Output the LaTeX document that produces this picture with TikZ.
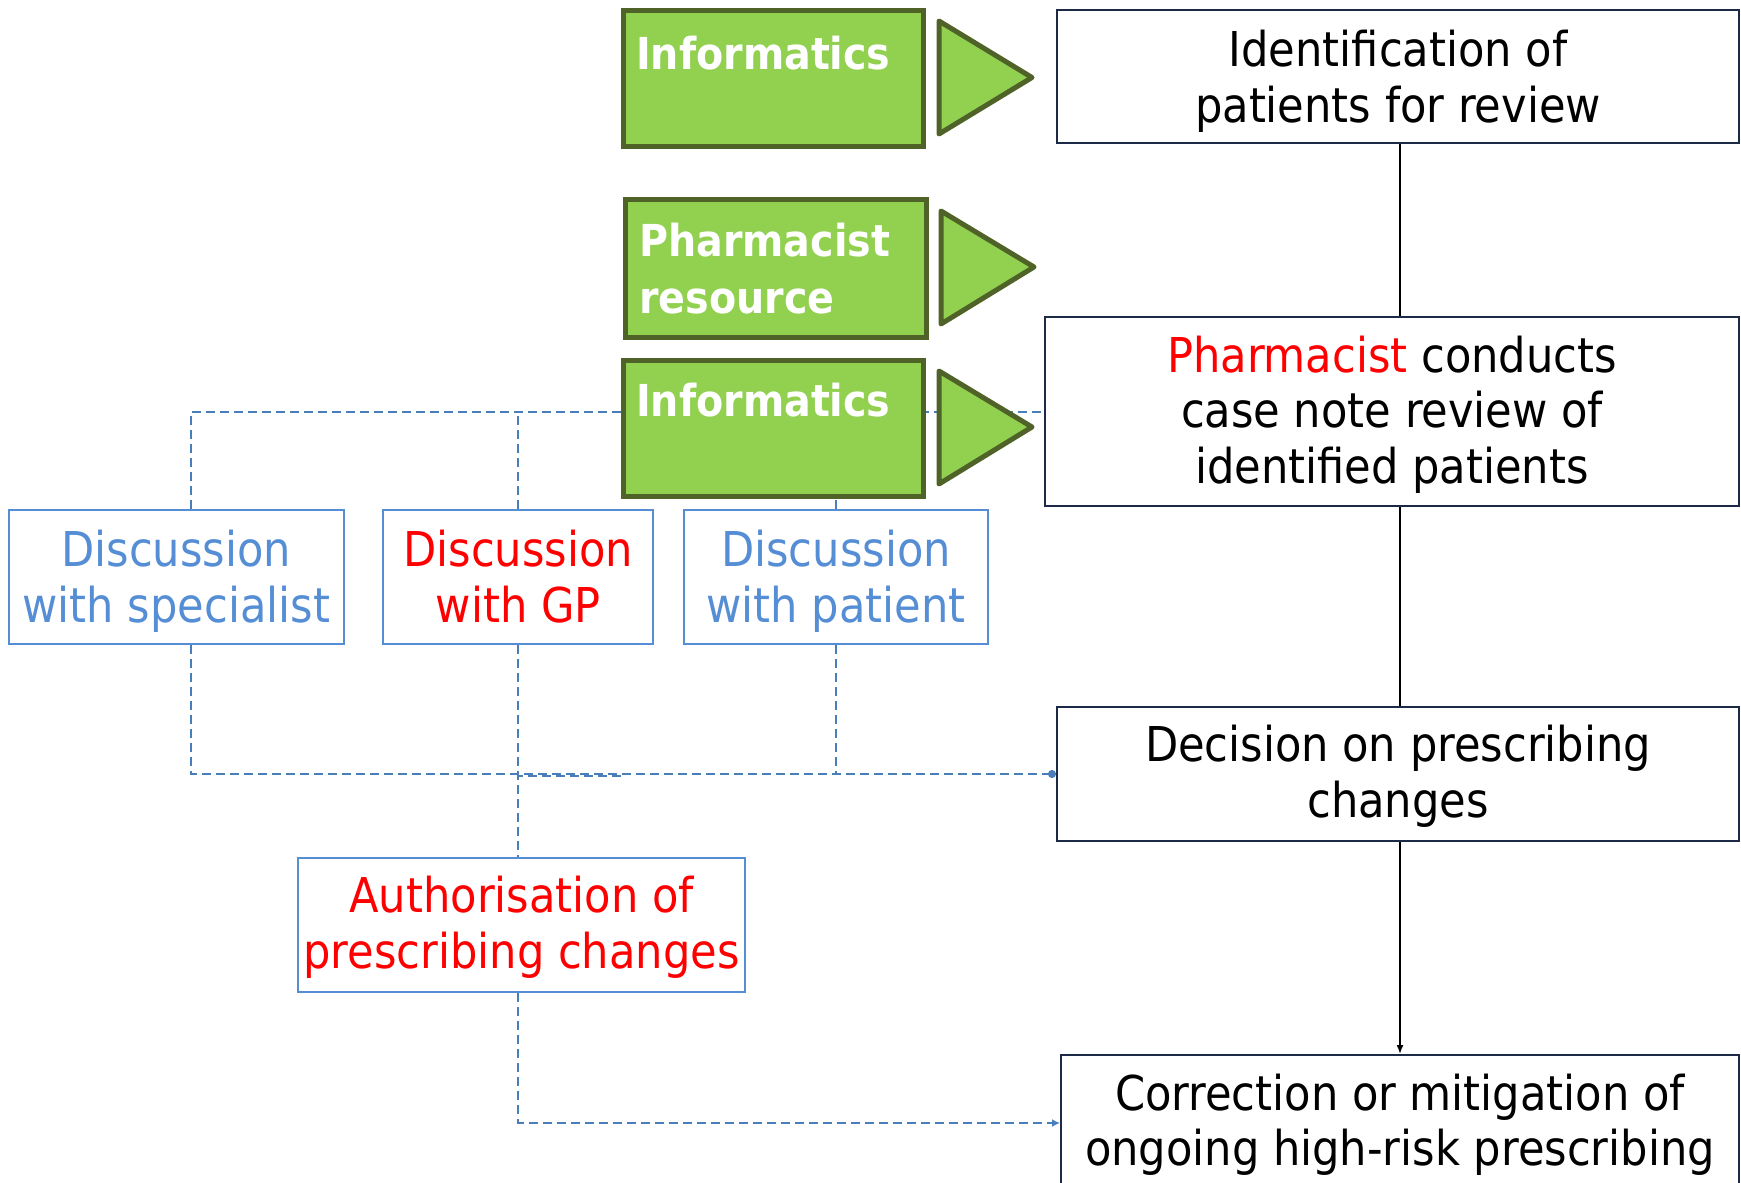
\documentclass[tikz,border=0pt]{standalone}
\usepackage{fontspec}
\setmainfont{DejaVu Sans Condensed}
\usetikzlibrary{arrows.meta}
\definecolor{gfill}{HTML}{92D050}
\definecolor{gborder}{HTML}{4F6228}
\definecolor{btext}{HTML}{558ED5}
\definecolor{dline}{HTML}{4A7EBB}
\definecolor{navy}{HTML}{1C2A48}
\definecolor{myred}{HTML}{FF0000}
\newcommand\tstr[1]{\rule{0pt}{#1pt}}
\newcommand\bstr{\rule[-12pt]{0pt}{0pt}}
\begin{document}
\begin{tikzpicture}[x=1pt,y=-1pt,
  mainbox/.style={draw=navy, line width=2pt, fill=white, align=center, inner sep=0pt,
    font=\fontsize{48}{55.5}\selectfont},
  bluebox/.style={draw=btext, line width=2pt, fill=white, align=center, inner sep=0pt,
    font=\fontsize{48}{56}\selectfont},
  gbox/.style={draw=gborder, fill=gfill, line width=5pt, inner sep=0pt},
  gtri/.style={draw=gborder, fill=gfill, line width=5pt, line join=round},
  gtext/.style={text=white, font=\bfseries\fontsize{44}{51}\selectfont, anchor=base west, inner sep=0pt},
  bluedash/.style={draw=dline, line width=2pt, dash pattern=on 9pt off 5pt},
  flow/.style={draw=black, line width=1.5pt}]
\useasboundingbox (0,0) rectangle (1741,1183);

% main flow boxes
\node[mainbox, minimum width=682pt, minimum height=133pt] (ident) at (1398,76.5)
  {\tstr{47.9}Identification of\\patients for review\bstr};
\node[mainbox, minimum width=694pt, minimum height=189pt] (pharm) at (1392,411.5)
  {\tstr{44}\textcolor{myred}{Pharmacist} conducts\\case note review of\\identified patients\bstr};
\node[mainbox, minimum width=682pt, minimum height=134pt] (dec) at (1398,774)
  {\tstr{42.9}Decision on prescribing\\changes\bstr};
\node[mainbox, minimum width=678pt, minimum height=136pt] (corr) at (1400,1123)
  {\tstr{41.5}Correction or mitigation of\\ongoing high-risk prescribing\bstr};
\coordinate (spine) at (1400,0);

% blue boxes
\node[bluebox, text=btext, minimum width=334.5pt, minimum height=134pt] (spec) at (176.25,577)
  {\tstr{46.9}Discussion\\with specialist\bstr};
\node[bluebox, text=myred, minimum width=269.6pt, minimum height=134pt] (gp) at (518.2,577)
  {\tstr{46.9}Discussion\\with GP\bstr};
\node[bluebox, text=btext, minimum width=303.6pt, minimum height=134pt] (pat) at (836,577)
  {\tstr{46.9}Discussion\\with patient\bstr};
\node[bluebox, text=myred, minimum width=447.3pt, minimum height=134pt] (auth) at (521.6,925.3)
  {\tstr{42.9}Authorisation of\\prescribing changes\bstr};

% black connectors
\draw[flow] (ident.south -| spine) -- (pharm.north -| spine);
\draw[flow] (pharm.south -| spine) -- (dec.north -| spine);
\draw[flow, -{Latex[length=9pt,width=7pt]}] (dec.south -| spine) -- (corr.north -| spine);

% blue dashed connectors
\draw[bluedash] ([xshift=15pt]spec.north) |- (pharm.west);
\draw[bluedash] (gp.north) -- (gp.north |- pharm.west);
\draw[bluedash] (pat.north) -- (pat.north |- pharm.west);
\draw[bluedash, -{Circle[length=8pt]}] ([xshift=15pt]spec.south) |- (dec.west);
\draw[bluedash] (pat.south) -- (pat.south |- dec.west);
\draw[bluedash, dash phase=4pt] ([yshift=-2pt]gp.south |- dec.west) -- ++(105,0);
\draw[bluedash] (gp.south) -- (gp.south |- auth.north);
\draw[bluedash, -{Latex[length=8pt,width=8pt]}] (gp.south |- auth.south) |- (corr.west);

% green boxes and triangles
\node[gbox, minimum width=300pt, minimum height=136pt] (g1) at (773.5,78) {};
\node[gtext] (g1t) at (636,69) {Informatics};
\filldraw[gtri] (939,21) -- (1032,77.5) -- (939,134) -- cycle;

\node[gbox, minimum width=301pt, minimum height=138pt] (g2) at (775.5,268) {};
\node[gtext] (g2t) at (639,256.7) {Pharmacist};
\node[gtext] (g2u) at (639,313) {resource};
\filldraw[gtri] (941,211) -- (1034,267) -- (941,324) -- cycle;

\node[gbox, minimum width=300pt, minimum height=136pt] (g3) at (773.5,428) {};
\node[gtext] (g3t) at (636,416.7) {Informatics};
\filldraw[gtri] (939,371) -- (1032,427) -- (939,484) -- cycle;
\end{tikzpicture}
\end{document}
